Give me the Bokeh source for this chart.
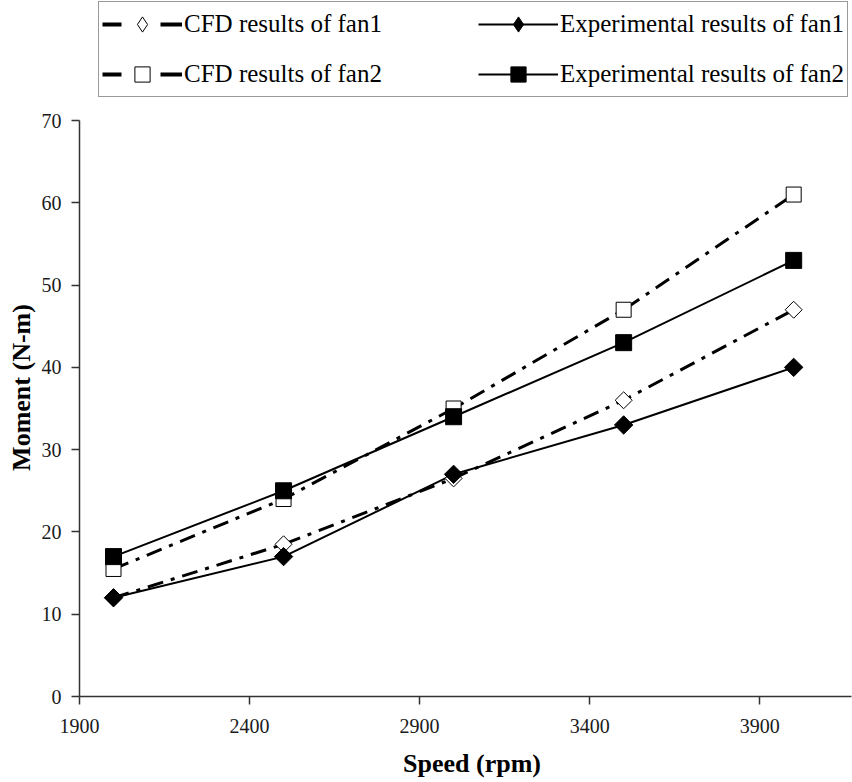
import math
from bokeh.plotting import figure
from bokeh.models import Range1d, FixedTicker, Legend, LegendItem
from bokeh.embed import file_html
from bokeh.resources import INLINE

# Fan speed (rpm) and measured / simulated moment (N-m)
speed = [2000, 2500, 3000, 3500, 4000]
cfd_fan1 = [12.0, 18.5, 26.5, 36.0, 47.0]
exp_fan1 = [12.0, 17.0, 27.0, 33.0, 40.0]
cfd_fan2 = [15.5, 24.0, 35.0, 47.0, 61.0]
exp_fan2 = [17.0, 25.0, 34.0, 43.0, 53.0]

x_ticks = [1900, 2400, 2900, 3400, 3900]
y_ticks = [0, 10, 20, 30, 40, 50, 60, 70]

FONT = "Liberation Serif"
DASHDOT = "16 8 4 8"
DIAMOND = math.pi / 4  # squares turned on their corner
NBSP = "\u00a0"

# The frame reaches the top of the canvas so the legend can sit above the
# 0-70 axis; the axis itself is bounded to 0-70.
Y_TOP = 70 + 120 / (576 / 70)

p = figure(
    width=852, height=782,
    output_backend="svg", toolbar_location=None,
    x_range=Range1d(1900, 4170), y_range=Range1d(0, Y_TOP),
    min_border_left=79, min_border_right=1,
    min_border_top=0, min_border_bottom=86,
)
p.outline_line_color = None
p.grid.grid_line_color = None
p.background_fill_color = "white"

# CFD series: dash-dot lines with open markers
l1 = p.line(speed, cfd_fan1, line_color="black", line_width=3, line_dash=DASHDOT)
l3 = p.line(speed, cfd_fan2, line_color="black", line_width=3, line_dash=DASHDOT)
# Experimental series: solid lines with filled markers
l2 = p.line(speed, exp_fan1, line_color="black", line_width=2)
l4 = p.line(speed, exp_fan2, line_color="black", line_width=2)

m1 = p.scatter(speed, cfd_fan1, marker="square", angle=DIAMOND, size=12,
               fill_color="white", line_color="black", line_width=1)
m3 = p.scatter(speed, cfd_fan2, marker="square", size=15,
               fill_color="white", line_color="black", line_width=1)
m2 = p.scatter(speed, exp_fan1, marker="square", angle=DIAMOND, size=13,
               fill_color="black", line_color="black", line_width=1)
m4 = p.scatter(speed, exp_fan2, marker="square", size=16,
               fill_color="black", line_color="black", line_width=1)

# Hidden key glyphs used only in the legend: a short dash either side of
# the marker, and diamond symbols (legend markers are drawn unrotated)
key_dash = "19 39 22 60"
k_l1 = p.line(speed, cfd_fan1, line_color="black", line_width=4,
              line_dash=key_dash, visible=False)
k_l3 = p.line(speed, cfd_fan2, line_color="black", line_width=4,
              line_dash=key_dash, visible=False)
k_m1 = p.scatter(speed, cfd_fan1, marker="diamond", fill_color="white",
                 line_color="black", line_width=1, visible=False)
k_m2 = p.scatter(speed, exp_fan1, marker="diamond", fill_color="black",
                 line_color="black", line_width=1, visible=False)

# Axes
for ax in (p.xaxis[0], p.yaxis[0]):
    ax.axis_line_color = "#333333"
    ax.axis_line_width = 1.5
    ax.major_tick_line_color = "#333333"
    ax.major_tick_line_width = 1.5
    ax.major_tick_in = 0
    ax.major_tick_out = 8
    ax.minor_tick_line_color = None
    ax.major_label_text_font = FONT
    ax.major_label_text_font_size = "20px"
    ax.major_label_text_color = "#1a1a1a"
    ax.axis_label_text_font = FONT
    ax.axis_label_text_font_size = "26px"
    ax.axis_label_text_font_style = "bold"
    ax.axis_label_text_color = "black"

p.xaxis.ticker = FixedTicker(ticks=x_ticks)
p.yaxis.ticker = FixedTicker(ticks=y_ticks)
p.yaxis.bounds = (0, 70)
p.xaxis.axis_label = NBSP * 2 + "Speed (rpm)"
# padded at its far end so the rotated title sits level with the 0-70 axis
p.yaxis.axis_label = "Moment (N-m)" + NBSP * 12
p.xaxis.major_label_standoff = 14
p.xaxis.axis_label_standoff = 13
p.yaxis.major_label_standoff = 10
p.yaxis.axis_label_standoff = 3

legend = Legend(
    items=[
        LegendItem(label="CFD results of fan1", renderers=[k_l1, k_m1]),
        LegendItem(label="Experimental results of fan1", renderers=[l2, k_m2]),
        LegendItem(label="CFD results of fan2", renderers=[k_l3, m3]),
        LegendItem(label="Experimental results of fan2", renderers=[l4, m4]),
    ],
    orientation="horizontal", ncols=2,
    location=(19, 599),
    glyph_width=80, glyph_height=38,
    label_standoff=2, spacing=12, padding=3,
    label_width=282,
    label_text_font=FONT, label_text_font_size="25px", label_text_color="black",
    border_line_color="#333333", border_line_width=1.5,
    background_fill_color="white", background_fill_alpha=1.0,
)
p.add_layout(legend, "center")

open("out.html", "w").write(file_html(p, INLINE))
